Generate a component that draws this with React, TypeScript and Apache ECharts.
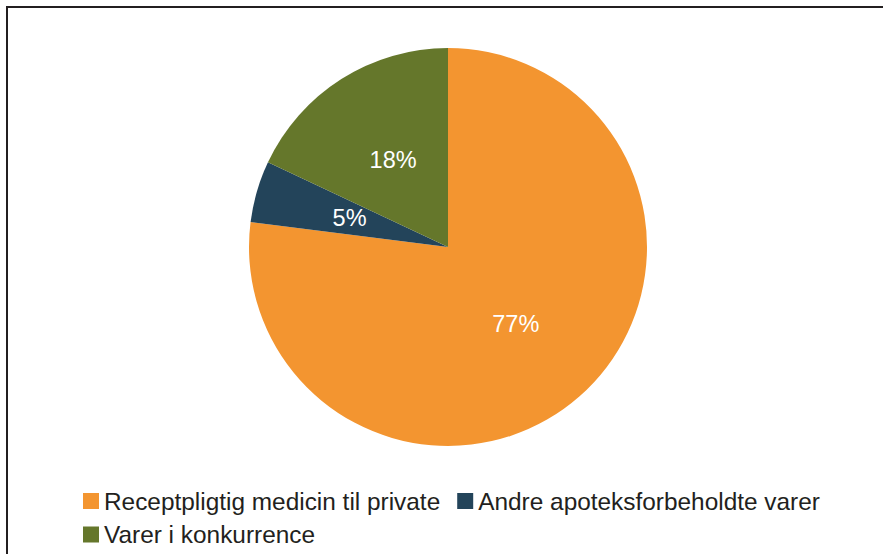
import React, { useEffect, useRef } from "react";
import * as echarts from "echarts";

const categories = [
  "Receptpligtig medicin til private",
  "Andre apoteksforbeholdte varer",
  "Varer i konkurrence",
];
const shares = [77, 5, 18];
const colors = ["#F39530", "#23445A", "#65772B"];

export default function App() {
  const ref = useRef<HTMLDivElement>(null);
  useEffect(() => {
    const chart = echarts.init(ref.current!, undefined, { renderer: "svg" });
    const legendBase = {
      orient: "horizontal",
      padding: 0,
      itemWidth: 16,
      itemHeight: 16,
      itemGap: 17,
      itemTextGap: 7,
      icon: "rect",
      selectedMode: false,
      textStyle: {
        fontSize: 24.4,
        lineHeight: 24,
        color: "#231F20",
        fontFamily: "Liberation Sans, Arial, sans-serif",
      },
    };
    chart.setOption({
      animation: false,
      backgroundColor: "#ffffff",
      color: colors,
      graphic: [
        {
          type: "rect",
          shape: { x: 7, y: 7, width: 900, height: 600 },
          style: { fill: "none", stroke: "#231F20", lineWidth: 2 },
          silent: true,
        },
      ],
      legend: [
        { ...legendBase, left: 83, top: 489, data: [categories[0], categories[1]] },
        { ...legendBase, left: 83, top: 522.5, data: [categories[2]] },
      ],
      series: [
        {
          type: "pie",
          center: [448, 247],
          radius: [0, 199],
          startAngle: 90,
          clockwise: true,
          avoidLabelOverlap: false,
          label: {
            show: true,
            position: "inside",
            formatter: "{c}%",
            color: "#ffffff",
            fontSize: 23.5,
            fontFamily: "Liberation Sans, Arial, sans-serif",
          },
          labelLine: { show: false },
          itemStyle: { borderWidth: 0 },
          emphasis: { disabled: true },
          data: categories.map((name, i) => ({ name, value: shares[i] })),
        },
      ],
    });
    return () => chart.dispose();
  }, []);
  return (
    <div
      ref={ref}
      style={{ position: "fixed", left: 0, top: 0, width: 883, height: 554 }}
    />
  );
}
